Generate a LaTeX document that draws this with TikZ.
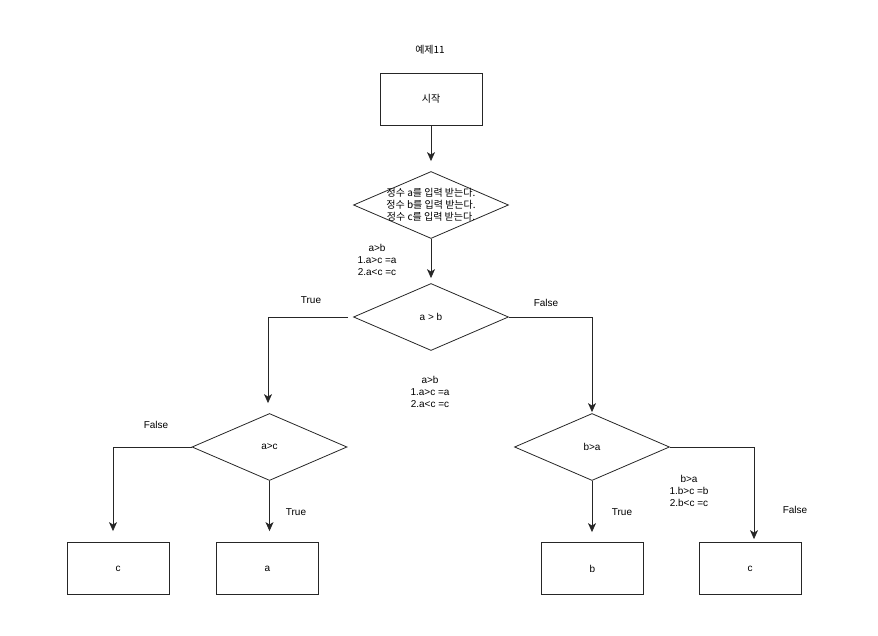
\documentclass[tikz,border=0pt]{standalone}
\usepackage{fontspec}
\setmainfont{Liberation Sans}
\newfontfamily\krfont{Noto Sans CJK KR}
\usetikzlibrary{shapes.geometric,arrows.meta,positioning}

\begin{document}
\begin{tikzpicture}[x=1pt,y=-1pt,
    font=\fontsize{10}{12}\selectfont,
    box/.style={draw=black!85,line width=0.8pt,minimum width=102pt,minimum height=52pt,inner sep=0pt},
    decision/.style={draw=black!85,line width=0.8pt,diamond,aspect=2.3,minimum width=155pt,minimum height=67pt,inner sep=0pt},
    arrow/.style={draw=black!85,line width=0.8pt,-{Stealth[length=9pt,width=8pt,inset=2.5pt]}},
    note/.style={align=center,inner sep=0pt}]
  \useasboundingbox (0,0) rectangle (878,636);
  % title and start
  \node[note] (title) at (430,50) {\krfont 예제11};
  \node[box] (start) at (431,99) {\krfont 시작};
  % input
  \node[decision] (input) at (431,205) {};
  \node[note,font=\krfont\fontsize{10}{12}\selectfont] (inputtxt) at (431,205)
    {정수 a를 입력 받는다.\\정수 b를 입력 받는다.\\정수 c를 입력 받는다.};
  \node[note] (noteab) at (377,260) {a>b\\1.a>c =a\\2.a<c =c};
  % first decision
  \node[decision] (ab) at (431,317) {a > b};
  \node[note] (trueab) at (311,300) {True};
  \node[note] (falseab) at (546,303) {False};
  \node[note] (notemid) at (430,392) {a>b\\1.a>c =a\\2.a<c =c};
  % left branch
  \node[decision] (ac) at (269.5,447) {a>c};
  \node[note] (falseac) at (156,425) {False};
  \node[note] (trueac) at (296,512) {True};
  \node[box] (outc1) at (118,568.5) {c};
  \node[box] (outa) at (267.5,568.5) {a};
  % right branch
  \node[decision] (ba) at (592,447) {b>a};
  \node[note] (trueba) at (622,512) {True};
  \node[note] (falseba) at (795,510) {False};
  \node[note] (noteba) at (689,491) {b>a\\1.b>c =b\\2.b<c =c};
  \node[box] (outb) at (592.5,568.5) {b};
  \node[box] (outc2) at (750,568.5) {c};
  % connectors
  \draw[arrow,shorten >=10pt] (start) -- (input);
  \draw[arrow,shorten >=5pt] (input) -- (ab);
  \draw[arrow,shorten >=10pt] ([xshift=-5pt]ab.west) -| ([xshift=-1.5pt]ac.north);
  \draw[arrow,shorten >=1pt] (ab.east) -| (ba.north);
  \draw[arrow,shorten >=11pt] (ac.west) -| ([xshift=-5pt]outc1.north);
  \draw[arrow,shorten >=11pt] (ac.south) -- (outa.north -| ac.south);
  \draw[arrow,shorten >=10pt] (ba.south) -- (outb.north -| ba.south);
  \draw[arrow,shorten >=3pt] (ba.east) -| ([xshift=4pt]outc2.north);
\end{tikzpicture}
\end{document}
